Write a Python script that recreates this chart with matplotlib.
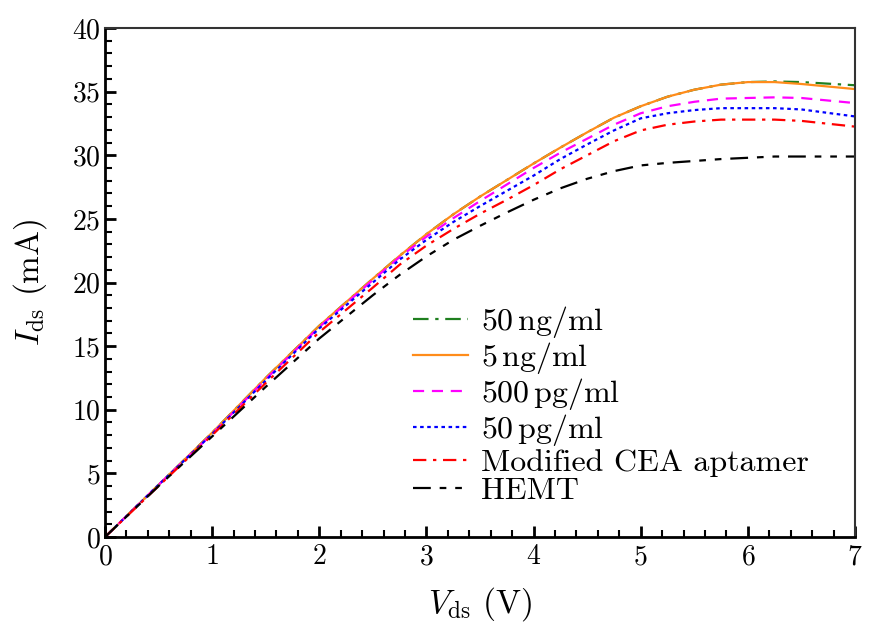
import matplotlib
matplotlib.use("Agg")
import matplotlib.pyplot as plt
from matplotlib.ticker import MultipleLocator

plt.rcParams['font.family'] = 'serif'
plt.rcParams['font.serif'] = ['cmr10']
plt.rcParams['mathtext.fontset'] = 'cm'
plt.rcParams['axes.formatter.use_mathtext'] = True

vds = [0, 0.5, 1, 1.5, 2, 2.5, 2.75, 3, 3.25, 3.5, 3.75, 4, 4.25, 4.5, 4.75,
       5, 5.25, 5.5, 5.75, 6, 6.25, 6.5, 7]
i_50ng = [0, 4.1, 8.2, 12.5, 16.6, 20.3, 22.1, 23.8, 25.35, 26.75, 28.05, 29.35, 30.6, 31.8, 32.95,
          33.85, 34.6, 35.15, 35.55, 35.75, 35.8, 35.75, 35.5]
i_5ng = [0, 4.1, 8.2, 12.5, 16.6, 20.3, 22.1, 23.8, 25.35, 26.75, 28.05, 29.35, 30.6, 31.8, 32.95,
         33.85, 34.6, 35.15, 35.55, 35.75, 35.75, 35.6, 35.2]
i_500pg = [0, 4.1, 8.1, 12.4, 16.5, 20.2, 22.0, 23.6, 25.05, 26.4, 27.7, 29.0, 30.2, 31.3, 32.4,
           33.3, 33.85, 34.2, 34.45, 34.5, 34.55, 34.5, 34.1]
i_50pg = [0, 4.1, 8.1, 12.3, 16.4, 20.0, 21.8, 23.35, 24.75, 26.0, 27.2, 28.4, 29.7, 30.85, 31.95,
          32.9, 33.3, 33.55, 33.7, 33.7, 33.7, 33.6, 33.05]
i_cea = [0, 4.0, 8.0, 12.1, 16.1, 19.6, 21.4, 22.9, 24.2, 25.4, 26.5, 27.65, 28.9, 30.0, 31.1,
         31.95, 32.4, 32.65, 32.8, 32.8, 32.8, 32.7, 32.25]
i_hemt = [0, 4.0, 7.9, 11.8, 15.6, 19.0, 20.6, 22.05, 23.35, 24.45, 25.5, 26.5, 27.4, 28.15, 28.75,
          29.2, 29.4, 29.55, 29.7, 29.8, 29.9, 29.9, 29.9]

labels = [r'$\mathrm{50\,ng/ml}$', r'$\mathrm{5\,ng/ml}$', r'$\mathrm{500\,pg/ml}$',
          r'$\mathrm{50\,pg/ml}$', 'Modified CEA aptamer', 'HEMT']
series = [i_50ng, i_5ng, i_500pg, i_50pg, i_cea, i_hemt]
colors = ['#1f7f1f', '#ff8c1a', '#ff00ff', '#0000ff', '#ff0000', '#000000']
styles = [(0, (7, 3, 1.5, 3)), '-', (0, (5, 3.5)), (0, (1.6, 1.6)),
          (0, (6, 3, 1.5, 3)), (0, (8, 4, 3, 4, 3, 4))]

fig = plt.figure(figsize=(8.71, 6.38), dpi=100)
ax = fig.add_axes([105/871, 1-537/638, 750/871, 509/638])

for y, lab, c, ls in zip(series, labels, colors, styles):
    ax.plot(vds, y, color=c, linestyle=ls, linewidth=1.6, label=lab)

ax.set_xlim(0, 7)
ax.set_ylim(0, 40)
ax.xaxis.set_major_locator(MultipleLocator(1))
ax.xaxis.set_minor_locator(MultipleLocator(0.2))
ax.yaxis.set_major_locator(MultipleLocator(5))
ax.yaxis.set_minor_locator(MultipleLocator(1))
ax.tick_params(which='both', direction='in', top=False, right=False, labelsize=20)
ax.tick_params(which='major', length=8, width=2)
ax.tick_params(which='minor', length=5, width=1.5)
ax.tick_params(axis='x', pad=5)
ax.tick_params(axis='y', pad=3)

for s in ['left', 'bottom']:
    ax.spines[s].set_linewidth(2)
    ax.spines[s].set_color('black')
for s in ['top', 'right']:
    ax.spines[s].set_linewidth(1.5)
    ax.spines[s].set_color('#333333')

ax.set_xlabel(r'$V_{\rm ds}$ (V)', fontsize=24, labelpad=11)
ax.set_ylabel(r'$I_{\rm ds}$ (mA)', fontsize=24, labelpad=17)

ax.legend(loc='upper left', bbox_to_anchor=(0.393, 0.482), frameon=False, fontsize=23,
          handlelength=1.75, handletextpad=0.4, labelspacing=0.0, borderaxespad=0)

fig.savefig('out.png', dpi=100)
